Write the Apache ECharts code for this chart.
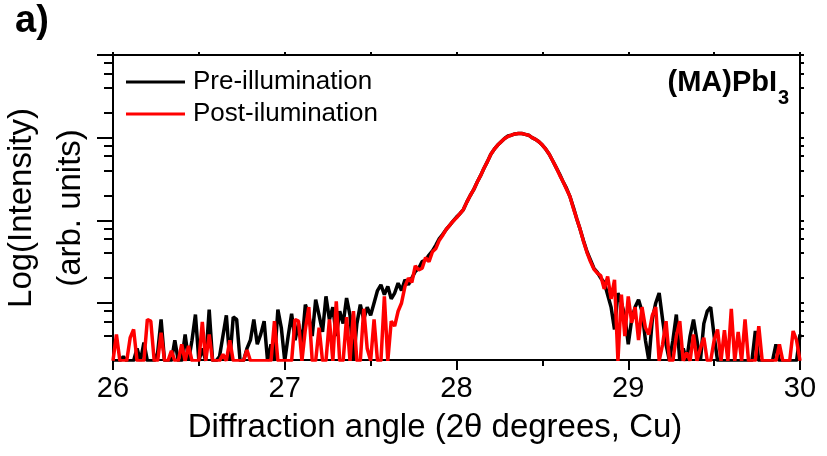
<!DOCTYPE html>
<html>
<head>
<meta charset="utf-8">
<script src="https://cdn.jsdelivr.net/npm/echarts@6/dist/echarts.min.js"></script>
<style>html,body{margin:0;padding:0;background:#fff}#chart{width:827px;height:456px}</style>
</head>
<body>
<div id="chart"></div>
<script>
// Sampling grid of the scan (degrees 2θ)
const angleStart = 26;
const angleStep = 0.02;
// log10(intensity), one value per step
const preIllumination = [
0.3,0.3,0.3,0.35,0.3,0.3,0.3,0.45,0.3,0.52,
0.3,0.3,0.3,0.4,0.8,0.3,0.3,0.3,0.55,0.3,
0.3,0.62,0.3,0.55,0.86,0.3,0.45,0.3,0.92,0.3,
0.3,0.35,0.6,0.85,0.3,0.83,0.8,0.3,0.3,0.45,
0.55,0.8,0.5,0.62,0.78,0.3,0.5,0.3,0.92,0.7,
0.3,0.6,0.87,0.55,0.75,0.5,0.98,0.85,0.6,1.04,
0.85,0.65,1.08,0.8,0.95,0.6,0.9,0.75,1.06,0.85,
0.3,0.75,0.98,0.8,0.95,0.85,1.0,1.15,1.22,1.1,
1.2,1.05,1.12,1.24,1.15,1.28,1.22,1.3,1.38,1.42,
1.5,1.52,1.58,1.63,1.7,1.78,1.83,1.89,1.94,1.99,
2.04,2.08,2.13,2.22,2.3,2.37,2.46,2.54,2.63,2.71,
2.8,2.86,2.91,2.95,2.99,3.02,3.03,3.045,3.05,3.05,
3.04,3.03,3.0,2.98,2.95,2.91,2.86,2.8,2.72,2.64,
2.56,2.47,2.39,2.29,2.16,2.02,1.89,1.75,1.62,1.52,
1.42,1.37,
1.3,1.25,1.1,0.95,0.68,1.12,1.0,0.85,0.5,
0.8,0.95,1.04,0.9,0.55,0.3,0.8,1.0,1.12,0.8,
0.5,0.3,0.55,0.86,0.3,0.45,0.3,0.6,0.8,0.55,
0.3,0.75,0.9,0.95,0.6,0.3,0.3,0.3,0.3,0.3,
0.3,0.3,0.3,0.3,0.3,0.3,0.66,0.3,0.3,0.3,
0.3,0.3,0.5,0.3,0.3,0.3,0.3,0.3,0.3,0.62
];
const postIllumination = [
0.3,0.62,0.3,0.3,0.3,0.58,0.68,0.3,0.3,0.3,
0.8,0.78,0.3,0.3,0.64,0.3,0.3,0.42,0.3,0.3,
0.5,0.3,0.48,0.3,0.3,0.3,0.77,0.3,0.62,0.3,
0.3,0.3,0.38,0.3,0.55,0.3,0.3,0.3,0.3,0.43,
0.3,0.3,0.3,0.3,0.3,0.3,0.3,0.78,0.3,0.3,
0.3,0.3,0.3,0.8,0.78,0.3,0.68,0.95,0.3,0.3,
0.7,0.3,0.3,0.8,0.3,1.02,0.3,0.3,0.83,0.3,
0.9,0.3,0.3,0.93,0.45,0.3,0.8,0.3,0.3,1.08,
0.3,0.78,0.72,0.9,1.0,1.2,1.3,1.25,1.45,1.4,
1.42,1.55,1.5,1.62,1.66,1.76,1.82,1.89,1.94,1.99,
2.03,2.08,2.13,2.22,2.3,2.37,2.46,2.54,2.63,2.71,
2.8,2.86,2.91,2.95,2.99,3.015,3.03,3.045,3.05,3.05,
3.04,3.03,3.0,2.98,2.95,2.91,2.86,2.8,2.72,2.64,
2.55,2.47,2.38,2.29,2.15,2.02,1.89,1.74,1.61,1.5,
1.41,1.36,
1.33,1.17,1.32,1.05,1.28,0.3,1.1,0.6,1.08,
0.76,0.95,0.55,0.95,0.7,0.62,0.85,0.95,0.3,0.5,
0.78,0.3,0.3,0.6,0.78,0.3,0.4,0.3,0.62,0.3,
0.45,0.58,0.3,0.3,0.55,0.68,0.3,0.67,0.3,0.93,
0.3,0.65,0.3,0.8,0.3,0.3,0.3,0.72,0.3,0.3,
0.3,0.3,0.3,0.5,0.3,0.3,0.3,0.66,0.55,0.3
];
const seriesNames = ['Pre-illumination', 'Post-ilumination'];
const majorTickIntensities = [10, 100, 1000, 10000];
const minorTickIntensities = [4, 6, 8, 20, 40, 60, 80, 200, 400, 600, 800, 2000, 4000, 6000, 8000];

const FONT = '"Liberation Sans", Arial, sans-serif';
const toPairs = arr => arr.map((v, i) => [+(angleStart + i * angleStep).toFixed(2), v]);
const majorLog = majorTickIntensities.map(v => Math.log10(v));
const minorLog = minorTickIntensities.map(v => Math.log10(v));
const yMin = 0.31, yMax = 4;
const axisLineStyle = { color: '#000', width: 2 };

const chart = echarts.init(document.getElementById('chart'), null, { renderer: 'canvas' });
chart.setOption({
  animation: false,
  backgroundColor: '#fff',
  grid: { left: 113, right: 27, top: 55, bottom: 96 },
  legend: {
    data: seriesNames,
    orient: 'vertical',
    left: 126, top: 67,
    padding: 0,
    itemGap: 2,
    itemWidth: 59, itemHeight: 3,
    icon: 'rect',
    selectedMode: false,
    textStyle: { fontSize: 26, lineHeight: 30, color: '#000', fontFamily: FONT, padding: [0, 0, 0, 3] }
  },
  xAxis: [
    {
      type: 'value', min: 26, max: 30, interval: 1, position: 'bottom',
      axisLine: { show: true, onZero: false, lineStyle: axisLineStyle },
      axisTick: { show: true, length: 10, lineStyle: axisLineStyle },
      minorTick: { show: true, splitNumber: 2, length: 6, lineStyle: axisLineStyle },
      axisLabel: { fontSize: 29, color: '#000', margin: 14, fontFamily: FONT },
      splitLine: { show: false }
    },
    {
      type: 'value', min: 26, max: 30, interval: 0.5, position: 'top',
      axisLine: { show: true, onZero: false, lineStyle: axisLineStyle },
      axisTick: { show: true, length: 3, lineStyle: axisLineStyle },
      axisLabel: { show: false },
      splitLine: { show: false }
    }
  ],
  yAxis: [
    {
      type: 'value', min: yMin, max: yMax, position: 'left',
      axisLine: { show: true, onZero: false, lineStyle: axisLineStyle },
      axisTick: { show: true, length: 16, customValues: majorLog, lineStyle: axisLineStyle },
      axisLabel: { show: false },
      splitLine: { show: false }
    },
    {
      type: 'value', min: yMin, max: yMax, position: 'left',
      axisLine: { show: false },
      axisTick: { show: true, length: 9, customValues: minorLog, lineStyle: axisLineStyle },
      axisLabel: { show: false },
      splitLine: { show: false }
    },
    {
      type: 'value', min: yMin, max: yMax, position: 'right',
      axisLine: { show: true, onZero: false, lineStyle: axisLineStyle },
      axisTick: { show: true, length: 4, customValues: majorLog.concat(minorLog), lineStyle: axisLineStyle },
      axisLabel: { show: false },
      splitLine: { show: false }
    }
  ],
  series: [
    {
      name: seriesNames[0], type: 'line', xAxisIndex: 0, yAxisIndex: 0,
      data: toPairs(preIllumination), showSymbol: false, symbol: 'none',
      color: '#000000', lineStyle: { color: '#000000', width: 3.5 }, z: 2
    },
    {
      name: seriesNames[1], type: 'line', xAxisIndex: 0, yAxisIndex: 0,
      data: toPairs(postIllumination), showSymbol: false, symbol: 'none',
      color: '#ff0000', lineStyle: { color: '#ff0000', width: 3.5 }, z: 3
    }
  ],
  graphic: [
    { type: 'text', left: 15, top: 3, style: { text: 'a)', font: 'bold 38px ' + FONT, fill: '#000' } },
    { type: 'text', x: 777, y: 83, style: { text: '(MA)PbI', font: 'bold 29px ' + FONT, fill: '#000', textAlign: 'right', textVerticalAlign: 'middle' } },
    { type: 'text', x: 778, y: 98, style: { text: '3', font: 'bold 20px ' + FONT, fill: '#000', textAlign: 'left', textVerticalAlign: 'middle' } },
    { type: 'text', x: 435, y: 428, style: { text: 'Diffraction angle (2θ degrees, Cu)', font: '33px ' + FONT, fill: '#000', textAlign: 'center', textVerticalAlign: 'middle' } },
    { type: 'text', x: 22, y: 208, rotation: Math.PI / 2, style: { text: 'Log(Intensity)', font: '33px ' + FONT, fill: '#000', textAlign: 'center', textVerticalAlign: 'middle' } },
    { type: 'text', x: 71, y: 208, rotation: Math.PI / 2, style: { text: '(arb. units)', font: '33px ' + FONT, fill: '#000', textAlign: 'center', textVerticalAlign: 'middle' } }
  ]
});
</script>
</body>
</html>
